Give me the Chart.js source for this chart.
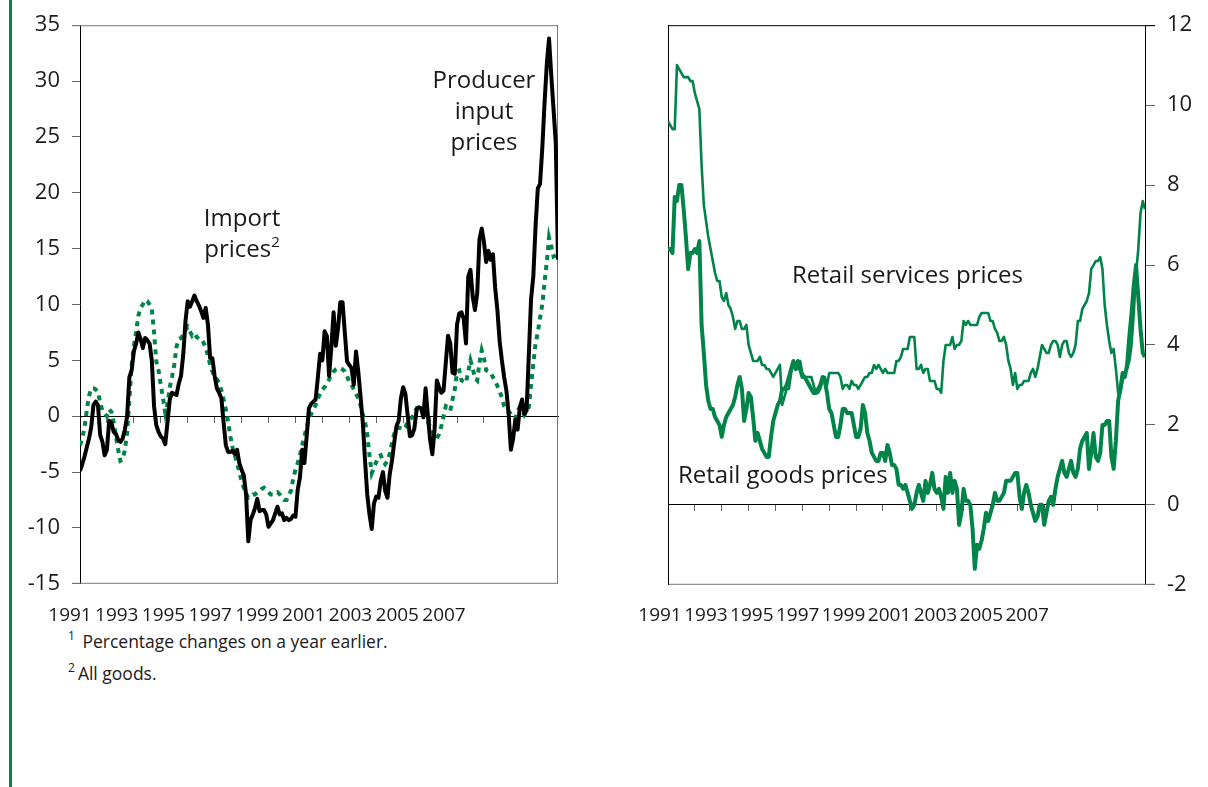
<!DOCTYPE html>
<html>
<head>
<meta charset="utf-8">
<script src="https://cdn.jsdelivr.net/npm/chart.js@4.4.1/dist/chart.umd.min.js"></script>
<style>
  html, body { margin: 0; padding: 0; background: #fff; }
  body { width: 1208px; height: 787px; position: relative; overflow: hidden;
         font-family: "Open Sans", sans-serif; color: #1a1a1a; }
  .bar { position: absolute; left: 9px; top: 0; width: 3px; height: 787px; background: #00844a; }
  .box { position: absolute; top: 0; }
  #leftBox { left: 0; width: 570px; height: 609px; }
  #rightBox { left: 600px; width: 608px; height: 610px; }
  .yr { position: absolute; top: 602px; font-size: 19px; line-height: 24px;
        transform: translateX(-50%); white-space: nowrap; }
  .note { position: absolute; left: 68px; font-size: 17.5px; line-height: 24px; white-space: nowrap; }
  .note .s { font-size: 12px; position: relative; top: -8px; margin-right: 3px; }
  .lbl { position: absolute; font-size: 24px; line-height: 31px; white-space: nowrap; }
  .lbl .s { font-size: 15px; position: relative; top: -10px; }
</style>
</head>
<body>
<div class="bar"></div>
<div class="box" id="leftBox"><canvas id="left"></canvas></div>
<div class="box" id="rightBox"><canvas id="right"></canvas></div>

<div class="lbl" style="left:242px; top:201px; transform:translateX(-50%); text-align:center;">Import<br>prices<span class="s">2</span></div>
<div class="lbl" style="left:484px; top:63px; transform:translateX(-50%); text-align:center;">Producer<br>input<br>prices</div>
<div class="lbl" style="left:792px; top:258px;">Retail services prices</div>
<div class="lbl" style="left:678px; top:458px;">Retail goods prices</div>

<div class="note" style="top:629px;"><span class="s">1</span> Percentage changes on a year earlier.</div>
<div class="note" style="top:661px;"><span class="s">2</span>All goods.</div>

<script>
// monthly data, Jan 1991 - Oct 2008
const startYear = 1991;
const yearLabels = ['1991', '1993', '1995', '1997', '1999', '2001', '2003', '2005', '2007'];
const leftTicks = [-15, -10, -5, 0, 5, 10, 15, 20, 25, 30, 35];
const rightTicks = [-2, 0, 2, 4, 6, 8, 10, 12];

const producerInput = [
  -4.9, -4.3, -3.6, -2.8, -2.0, -1.0, 1.0, 1.3, 1.0, -1.7, -2.3, -3.5,
  -3.0, -0.4, -0.6, -1.4, -1.6, -2.1, -2.3, -2.0, -1.2, 0.0, 3.5, 4.1,
  5.8, 6.5, 7.5, 6.9, 6.1, 7.0, 6.8, 6.5, 5.0, 0.9, -0.8, -1.4,
  -1.8, -2.0, -2.5, -0.5, 1.5, 2.1, 2.0, 1.9, 2.9, 3.6, 5.5, 8.5,
  10.3, 9.8, 10.3, 10.8, 10.3, 9.9, 9.4, 8.8, 9.7, 8.2, 5.2, 5.2,
  3.6, 2.5, 2.1, 1.6, -0.6, -2.6, -3.2, -3.2, -3.1, -3.4, -3.0, -4.2,
  -4.8, -5.3, -7.0, -11.2, -9.3, -8.8, -8.2, -7.4, -8.5, -8.4, -8.4, -8.8,
  -9.9, -9.6, -9.3, -8.7, -8.1, -8.8, -8.7, -9.3, -9.1, -9.3, -9.2, -8.9,
  -9.0, -6.6, -5.5, -3.0, -4.2, -1.8, 0.7, 1.1, 1.3, 1.5, 3.5, 5.6,
  5.0, 7.6, 7.2, 3.6, 6.2, 9.3, 6.3, 7.9, 10.2, 10.2, 7.5, 4.9,
  4.6, 4.3, 2.8, 5.8, 4.0, 1.8, -0.5, -3.9, -7.0, -8.8, -10.1, -7.8,
  -7.2, -7.3, -5.8, -5.0, -6.7, -7.3, -5.2, -4.0, -2.4, -0.9, -0.4, 1.6,
  2.6, 2.0, 0.1, -1.8, -1.7, -1.1, 0.6, 0.8, 0.7, -0.1, 2.5, 0.1,
  -2.1, -3.4, -1.2, 3.2, 2.6, 2.1, 2.3, 4.8, 7.2, 6.5, 3.9, 3.8,
  8.2, 9.2, 9.3, 8.7, 6.5, 12.5, 13.1, 10.7, 9.5, 11.0, 15.8, 16.8,
  15.6, 13.8, 14.8, 14.0, 14.5, 11.5, 9.5, 6.7, 5.0, 3.5, 2.3, 0.2,
  -3.0, -2.0, -0.3, -1.2, 0.8, 1.5, 0.2, 0.5, 5.5, 10.5, 12.5, 17.0,
  20.4, 20.8, 24.0, 28.0, 31.5, 33.8, 30.5, 27.5, 24.5, 14.0
];

const importPrices = [
  -2.6, -2.0, -1.0, 0.5, 1.8, 2.5, 2.5, 2.4, 2.2, 1.2, 0.5, 0.2,
  0.0, 0.6, 0.4, -0.5, -1.8, -3.0, -4.0, -3.9, -3.0, -1.5, 1.5, 4.5,
  6.3, 7.5, 9.0, 9.7, 10.0, 10.4, 10.3, 10.0, 9.6, 7.5, 4.9, 4.1,
  2.8, 1.6, 0.3, 1.1, 2.6, 3.5, 4.6, 6.2, 6.9, 7.0, 7.3, 7.7,
  8.0, 7.6, 7.2, 7.4, 7.1, 6.9, 6.9, 6.6, 6.2, 5.4, 4.6, 4.0,
  3.5, 3.3, 3.0, 2.3, 1.5, 0.6, -0.5, -1.8, -2.8, -3.5, -4.2, -5.0,
  -5.8, -6.4, -6.9, -7.3, -7.2, -7.0, -7.0, -6.8, -6.7, -6.5, -6.4, -6.6,
  -6.8, -7.0, -7.0, -6.9, -6.8, -7.0, -7.3, -7.5, -7.5, -7.0, -6.7, -5.6,
  -4.8, -4.2, -3.5, -2.6, -1.8, -1.0, -0.3, 0.2, 0.6, 1.0, 1.6, 2.0,
  2.4, 2.6, 2.9, 3.3, 3.7, 4.0, 4.2, 4.3, 4.3, 4.2, 4.0, 3.6,
  3.0, 2.8, 2.4, 2.0, 1.6, 1.0, 0.2, -0.5, -1.6, -3.5, -5.1, -4.6,
  -4.1, -3.6, -3.5, -4.0, -4.3, -4.0, -3.4, -2.4, -1.6, -1.1, -1.0, -1.1,
  -1.2, -1.0, -0.5, -0.3, -0.1, 0.3, 0.7, 0.6, 0.4, 0.2, -0.1, -0.5,
  -0.9, -1.3, -1.8, -2.0, -1.6, -0.9, 0.0, 0.9, 0.8, 0.5, 1.5, 2.4,
  4.0, 4.1, 3.2, 3.1, 3.0, 4.0, 5.0, 4.3, 3.4, 3.2, 4.8, 5.9,
  5.2, 4.1, 4.0, 3.9, 3.5, 3.2, 2.7, 2.2, 1.7, 0.9, 0.6, 0.4,
  0.2, -0.1, -0.2, 0.5, 0.8, 0.5, 0.1, 0.4, 0.8, 2.8, 4.7, 6.5,
  7.5, 8.8, 10.0, 12.0, 13.8, 16.0, 15.2, 14.3, 14.4, 14.6
];

const retailServices = [
  9.6, 9.5, 9.4, 9.4, 11.0, 10.9, 10.8, 10.7, 10.7, 10.7, 10.6, 10.6,
  10.3, 10.1, 9.9, 8.5, 7.5, 7.1, 6.7, 6.4, 6.1, 5.8, 5.6, 5.6,
  5.2, 5.1, 5.3, 5.0, 4.9, 4.7, 4.4, 4.6, 4.6, 4.4, 4.4, 4.5,
  4.0, 3.8, 3.6, 3.6, 3.6, 3.7, 3.5, 3.5, 3.4, 3.4, 3.3, 3.2,
  3.3, 3.4, 3.5, 2.5, 2.7, 2.9, 2.9, 3.3, 3.6, 3.4, 3.4, 3.6,
  3.3, 3.2, 3.2, 3.2, 3.2, 3.0, 2.8, 2.8, 2.9, 3.1, 3.2, 3.0,
  3.3, 3.3, 3.3, 3.3, 3.3, 3.2, 2.9, 3.0, 3.0, 2.9, 3.1, 3.0,
  3.0, 2.9, 3.0, 3.1, 3.2, 3.2, 3.3, 3.3, 3.5, 3.4, 3.5, 3.4,
  3.3, 3.4, 3.3, 3.3, 3.3, 3.3, 3.6, 3.6, 3.7, 3.9, 3.9, 3.9,
  4.2, 4.2, 4.2, 3.4, 3.4, 3.5, 3.3, 3.4, 3.4, 3.1, 3.1, 3.1,
  2.9, 2.9, 2.8, 3.6, 4.0, 4.0, 4.0, 4.2, 3.9, 4.0, 4.0, 4.1,
  4.6, 4.5, 4.6, 4.5, 4.5, 4.5, 4.5, 4.7, 4.8, 4.8, 4.8, 4.8,
  4.6, 4.6, 4.4, 4.3, 4.1, 4.1, 4.2, 4.0, 3.6, 3.4, 3.0, 3.3,
  2.9, 3.0, 3.0, 3.1, 3.1, 3.1, 3.3, 3.4, 3.2, 3.4, 3.7, 4.0,
  3.9, 3.8, 3.8, 4.0, 4.1, 4.1, 4.0, 3.7, 4.0, 4.1, 4.1, 3.8,
  3.7, 3.8, 4.0, 4.6, 4.6, 4.9, 5.0, 5.1, 5.3, 5.9, 6.0, 6.1,
  6.1, 6.2, 5.9, 5.0, 4.5, 4.1, 3.8, 3.9, 3.4, 2.8, 2.8, 3.1,
  3.3, 3.4, 3.6, 4.0, 4.8, 5.8, 6.4, 7.3, 7.6, 7.4
];

const retailGoods = [
  6.4, 6.4, 6.3, 7.7, 7.6, 8.0, 8.0, 7.4, 6.7, 5.9, 6.3, 6.3,
  6.4, 6.3, 6.6, 4.5, 3.8, 3.0, 2.6, 2.4, 2.4, 2.2, 2.1, 2.0,
  1.7, 2.0, 2.2, 2.3, 2.4, 2.5, 2.7, 3.0, 3.2, 2.9, 2.1, 2.4,
  2.8, 2.7, 2.2, 1.6, 1.8, 1.6, 1.4, 1.3, 1.2, 1.2, 1.7, 2.1,
  2.3, 2.5, 2.6, 2.9, 2.9, 3.0, 3.2, 3.4, 3.6, 3.4, 3.6, 3.4,
  3.2, 3.2, 3.1, 3.0, 2.9, 2.8, 2.8, 2.9, 3.0, 3.2, 3.1, 2.8,
  2.4, 2.3, 2.0, 1.7, 1.7, 2.0, 2.4, 2.4, 2.3, 2.3, 2.3, 2.0,
  1.7, 1.7, 1.9, 2.5, 2.3, 1.8, 1.6, 1.3, 1.2, 1.1, 1.1, 1.3,
  1.3, 1.1, 1.5, 1.3, 1.0, 1.0, 0.9, 0.5, 0.5, 0.4, 0.5, 0.3,
  0.1, -0.1, 0.0, 0.3, 0.5, 0.3, 0.1, 0.6, 0.3, 0.5, 0.8, 0.4,
  0.3, 0.4, 0.2, -0.1, 0.7, 0.3, 0.8, 0.3, 0.6, 0.4, -0.5, -0.2,
  0.4, 0.1, 0.1, 0.0, -0.6, -1.6, -1.0, -1.1, -0.9, -0.6, -0.2, -0.4,
  -0.2, 0.0, 0.3, 0.1, 0.1, 0.2, 0.3, 0.6, 0.6, 0.6, 0.7, 0.8,
  0.8, 0.2, -0.1, 0.3, 0.5, 0.3, 0.0, -0.2, -0.4, -0.3, 0.0, 0.0,
  -0.5, -0.2, 0.1, 0.2, 0.0, 0.4, 0.7, 0.9, 1.1, 0.8, 0.7, 0.9,
  1.1, 0.8, 0.7, 0.9, 1.4, 1.6, 1.7, 1.8, 0.9, 1.3, 1.8, 1.2,
  1.1, 1.3, 2.0, 2.0, 2.1, 2.1, 1.2, 0.9, 1.6, 2.6, 2.9, 3.3,
  3.2, 3.5, 4.2, 4.8, 5.5, 6.0, 5.2, 4.4, 3.8, 3.7
];

const GREEN = '#00844a';
const FONT = '"Open Sans", sans-serif';
const lastMonth = producerInput.length - 1;

function points(arr) {
    return arr.map((v, i) => ({ x: i, y: v }));
}

// gray/black frame round the plot area
const framePlugin = {
    id: 'frame',
    beforeDatasetsDraw(chart, args, opts) {
        const { ctx, chartArea: a } = chart;
        ctx.save();
        ctx.lineWidth = 1;
        const line = (color, x1, y1, x2, y2) => {
            ctx.strokeStyle = color;
            ctx.beginPath();
            ctx.moveTo(x1, y1);
            ctx.lineTo(x2, y2);
            ctx.stroke();
        };
        if (opts.top) line(opts.top, a.left - opts.extL, a.top + 0.5, a.right + opts.extR, a.top + 0.5);
        if (opts.bottom) line(opts.bottom, a.left - opts.extL, a.bottom - 0.5, a.right + opts.extR, a.bottom - 0.5);
        if (opts.right) line(opts.right, a.right - 0.5, a.top, a.right - 0.5, a.bottom);
        if (opts.left) line(opts.left, a.left + 0.5, a.top, a.left + 0.5, a.bottom);
        ctx.restore();
    }
};

function xAxis() {
    return {
        type: 'linear',
        min: 0,
        max: lastMonth,
        position: { y: 0 },
        ticks: { display: false, stepSize: 12 },
        afterBuildTicks: s => { s.ticks = s.ticks.filter(t => t.value > 0 && t.value % 12 === 0); },
        grid: { drawOnChartArea: false, drawTicks: true, tickLength: 6, color: '#666' },
        border: { color: '#000', width: 1 }
    };
}

function yAxis(ticks, side, width, tickLen) {
    return {
        position: side,
        min: ticks[0],
        max: ticks[ticks.length - 1],
        afterBuildTicks: s => { s.ticks = ticks.map(v => ({ value: v })); },
        afterFit: s => { s.width = width; },
        ticks: { color: '#1a1a1a', padding: 12, font: { family: FONT, size: 22 } },
        grid: { drawOnChartArea: false, tickLength: tickLen, color: '#666' },
        border: { color: '#000', width: 1 }
    };
}

Chart.defaults.font.family = FONT;

new Chart(document.getElementById('left'), {
    type: 'line',
    data: {
        datasets: [{
            label: 'Producer input prices',
            data: points(producerInput),
            borderColor: '#000',
            borderWidth: 4,
            borderJoinStyle: 'round',
            pointRadius: 0,
            tension: 0
        }, {
            label: 'Import prices',
            data: points(importPrices),
            borderColor: GREEN,
            borderWidth: 4,
            borderDash: [5, 5],
            borderCapStyle: 'butt',
            pointRadius: 0,
            tension: 0
        }]
    },
    options: {
        responsive: true,
        maintainAspectRatio: false,
        animation: false,
        devicePixelRatio: 1,
        layout: { padding: { top: 24, right: 12, bottom: 8, left: 0 } },
        scales: {
            x: xAxis(),
            y: yAxis(leftTicks, 'left', 80, 8)
        },
        plugins: {
            legend: { display: false },
            tooltip: { enabled: false },
            frame: { top: '#777', bottom: '#777', right: '#777', extL: 8, extR: 0 }
        }
    },
    plugins: [framePlugin]
});

new Chart(document.getElementById('right'), {
    type: 'line',
    data: {
        datasets: [{
            label: 'Retail goods prices',
            data: points(retailGoods),
            borderColor: GREEN,
            borderWidth: 4,
            borderJoinStyle: 'round',
            pointRadius: 0,
            tension: 0
        }, {
            label: 'Retail services prices',
            data: points(retailServices),
            borderColor: GREEN,
            borderWidth: 2.6,
            borderJoinStyle: 'round',
            pointRadius: 0,
            tension: 0
        }]
    },
    options: {
        responsive: true,
        maintainAspectRatio: false,
        animation: false,
        devicePixelRatio: 1,
        layout: { padding: { top: 24, right: 0, bottom: 8, left: 68 } },
        scales: {
            x: xAxis(),
            y: yAxis(rightTicks, 'right', 63, 10)
        },
        plugins: {
            legend: { display: false },
            tooltip: { enabled: false },
            frame: { top: '#000', bottom: '#777', left: '#000', extL: 0, extR: 10 }
        }
    },
    plugins: [framePlugin]
});

// year label rows under each panel
function yearRow(firstCenter, step) {
    yearLabels.forEach((txt, k) => {
        const el = document.createElement('div');
        el.className = 'yr';
        el.textContent = txt;
        el.style.left = (firstCenter + k * step) + 'px';
        document.body.appendChild(el);
    });
}
yearRow(70, 46.75);
yearRow(660, 45.9);
</script>
</body>
</html>
